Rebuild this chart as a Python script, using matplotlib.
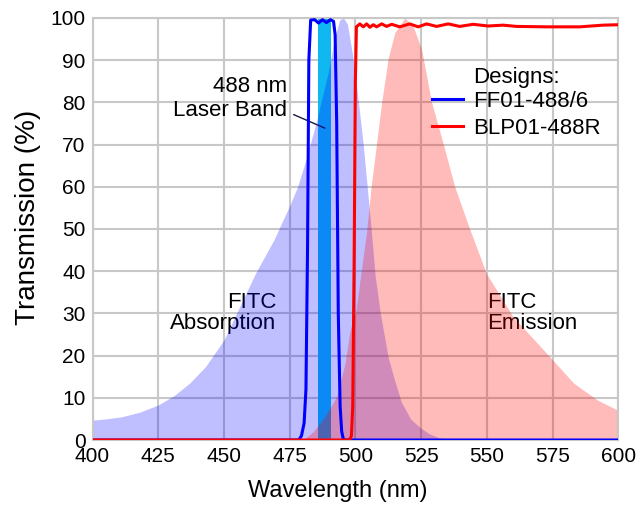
import matplotlib
matplotlib.use("Agg")
import matplotlib.pyplot as plt

plt.rcParams["font.family"] = ["Liberation Sans", "DejaVu Sans"]

# FITC absorption (blue fill)
abs_wl = [400, 405, 411, 418, 425, 431, 437, 443, 450, 456, 462, 469, 472, 475, 478, 481,
          485, 490, 492, 494, 495.5, 497, 499, 501, 503, 504.5, 506, 507.5, 509.5, 512.5, 515,
          517.5, 521, 524.5, 528, 532, 540, 600]
abs_t = [4.7, 5.0, 5.5, 6.6, 8.3, 10.5, 13.5, 17.4, 23.7, 31.6, 39.5, 47.4, 51.5, 55.5, 60, 66,
         75, 88, 95, 99.5, 100, 98.5, 91, 81, 70, 60, 50, 39, 30, 19.5, 14,
         9, 5, 3, 1.5, 0.5, 0, 0]

# FITC emission (red fill)
em_wl = [480, 484, 488.4, 492.9, 496, 498, 500.3, 502, 504.2, 506, 508, 510, 512.5, 515,
         518.8, 522, 525.2, 529, 533.5, 537.8, 543.5, 549.8, 560, 574, 583, 592, 600]
em_t = [0, 2, 5.5, 10.3, 18, 26, 31, 39, 49, 60, 70, 80, 90.5, 96.5,
        100, 98, 92.5, 80, 70, 60, 50, 39.5, 29.2, 19.7, 13.5, 9.5, 7]

# FF01-488/6
ff_wl = [400, 478.5, 479.5, 480.5, 481.2, 481.8, 482.3, 483.0, 484.5, 486.0, 487.5, 489.0,
         490.5, 491.7, 492.3, 492.9, 493.5, 494.2, 494.8, 495.5, 600]
ff_t = [0, 0, 1, 4, 12, 45, 90, 99.5, 99.6, 98.8, 99.6, 98.9, 99.6, 99.2, 96, 75, 30, 8, 2, 0, 0]

# BLP01-488R
blp_wl = [400, 497.8, 498.5, 499.0, 499.5, 500.0, 500.4, 501.7, 503.0, 504.3, 505.5, 506.8,
          508.1, 510.0, 511.9, 513.8, 516.9, 520.7, 523.9, 527.1, 530.9, 535.3, 539.7,
          544.8, 550.5, 556.2, 561.3, 572.7, 585.4, 594.2, 600]
blp_t = [0, 0, 1, 8, 40, 85, 97.9, 98.6, 97.9, 98.6, 97.8, 98.4,
         97.9, 98.6, 98.0, 98.5, 97.9, 98.6, 97.9, 98.6, 98.0, 98.6, 98.0,
         98.5, 98.1, 98.3, 98.0, 97.9, 97.9, 98.3, 98.4]

laser_band = (485.6, 490.6)

fig = plt.figure(figsize=(6.38, 5.05), dpi=100)
ax = fig.add_axes([0.145, 0.1287, 0.824, 0.8357])

ax.axvspan(*laser_band, color="#10b8f2", lw=0, zorder=1.2)
ax.fill_between(abs_wl, abs_t, color="#0000ff", alpha=0.25, lw=0, zorder=2)
ax.fill_between(em_wl, em_t, color="#ff0000", alpha=0.27, lw=0, zorder=2.1)
ax.plot(ff_wl, ff_t, color="#0000ff", lw=2.2, zorder=3, label="FF01-488/6")
ax.plot(blp_wl, blp_t, color="#ff0000", lw=2.2, zorder=3.1, label="BLP01-488R")

ax.set_xlim(400, 600)
ax.set_ylim(0, 100)
ax.set_xticks(range(400, 601, 25))
ax.set_yticks(range(0, 101, 10))
ax.grid(True, color="#c8c8c8", lw=1.5, zorder=0)
ax.set_axisbelow(True)
for s in ax.spines.values():
    s.set_color("#c8c8c8")
    s.set_linewidth(1.5)
ax.tick_params(length=0, labelsize=15, pad=5)
ax.set_xlabel("Wavelength (nm)", fontsize=17)
ax.set_ylabel("Transmission (%)", fontsize=20)
ax.xaxis.set_label_coords(0.466, -0.094)
ax.yaxis.set_label_coords(-0.098, 0.527)

txt = dict(fontsize=16, color="black", zorder=1.5)
ax.text(470, 30, "FITC\nAbsorption", ha="right", va="center", multialignment="right",
        linespacing=1.0, **txt)
ax.text(550, 30, "FITC\nEmission", ha="left", va="center", multialignment="left",
        linespacing=1.0, **txt)
ax.annotate("488 nm\nLaser Band", xy=(488.4, 73.9), xytext=(474, 81), ha="right", va="center",
            multialignment="right", linespacing=1.2, fontsize=16, zorder=1.5,
            arrowprops=dict(arrowstyle="-", color="#1a1a40", lw=1, relpos=(1, 0.2),
                            shrinkA=3, shrinkB=0))

ax.text(544.7, 86, "Designs:", ha="left", va="center", fontsize=16, zorder=4)
ax.legend(loc="upper left", bbox_to_anchor=(0.646, 0.828), frameon=False, fontsize=16,
          handlelength=1.4, handletextpad=0.45, borderpad=0, borderaxespad=0,
          labelspacing=0.3)

fig.savefig("out.png", dpi=100)
